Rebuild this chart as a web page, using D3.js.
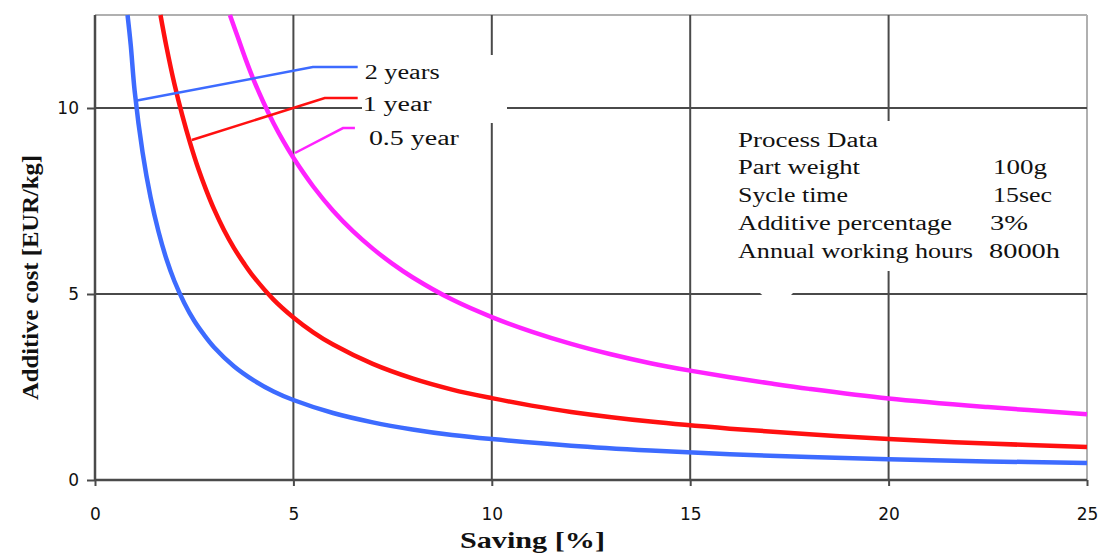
<!DOCTYPE html>
<html><head><meta charset="utf-8">
<script src="https://cdn.jsdelivr.net/npm/d3@7/dist/d3.min.js"></script>
<style>
body{margin:0;background:#fff;}
svg{display:block;}
text{font-family:"Liberation Serif","Times New Roman",serif;fill:#111;}
</style></head>
<body>
<svg id="chart" width="1105" height="555"></svg>
<script>
// ---- data ----
const xTicks = [0, 5, 10, 15, 20, 25];
const yTicks = [0, 5, 10];
const seriesNames = ["2 years", "1 year", "0.5 year"];
const seriesColors = ["#3d6bff", "#ff1010", "#ff22ff"];
const blueX = [0.82, 0.9, 1, 1.2, 1.4, 1.6, 1.8, 2, 2.25, 2.5, 2.75, 3, 3.5, 4, 4.5, 5, 6, 7, 8, 9, 10, 12, 14, 16, 18, 20, 22.5, 25];
const blueY = [12.5, 11.7, 10.45, 8.8, 7.6, 6.68, 5.94, 5.35, 4.76, 4.28, 3.9, 3.57, 3.06, 2.68, 2.38, 2.15, 1.8, 1.55, 1.36, 1.21, 1.1, 0.92, 0.79, 0.69, 0.62, 0.56, 0.5, 0.46];
const redX  = [1.65, 1.8, 2, 2.2, 2.4, 2.6, 2.8, 3, 3.25, 3.5, 3.75, 4, 4.5, 5, 5.5, 6, 7, 8, 9, 10, 11, 12, 14, 16, 18, 20, 22.5, 25];
const redY  = [12.5, 11.65, 10.65, 9.8, 9.05, 8.38, 7.8, 7.28, 6.72, 6.24, 5.83, 5.46, 4.85, 4.37, 3.97, 3.64, 3.12, 2.73, 2.43, 2.2, 2.0, 1.83, 1.57, 1.38, 1.23, 1.1, 0.98, 0.89];
const magX  = [3.4, 3.6, 3.8, 4, 4.25, 4.5, 4.75, 5, 5.5, 6, 6.5, 7, 7.5, 8, 9, 10, 11, 12, 13, 14, 15, 16, 17, 18, 20, 22.5, 25];
const magY  = [12.5, 11.9, 11.3, 10.75, 10.14, 9.59, 9.1, 8.66, 7.89, 7.24, 6.69, 6.22, 5.81, 5.45, 4.85, 4.38, 3.99, 3.66, 3.38, 3.14, 2.94, 2.76, 2.6, 2.45, 2.19, 1.96, 1.77];
// leader lines (data coords) from curve to label
const leaderBlue = [[1.06, 10.2], [5.49, 11.1], [6.62, 11.1]];
const leaderRed  = [[2.44, 9.14], [5.79, 10.27], [6.62, 10.27]];
const leaderMag  = [[5.04, 8.79], [6.25, 9.46], [6.55, 9.46]];
const processTitle = "Process Data";
const processLabels = ["Part weight", "Sycle time", "Additive percentage", "Annual working hours"];
const processValues = ["100g", "15sec", "3%", "8000h"];

// text widths matched to the reference rendering
const seriesLabelW = [75, 69, 90];
const processLabelW = [122, 110, 214, 235];
const processValueW = [54, 59, 38, 71];

// ---- layout ----
const svg = d3.select("#chart");
const x = d3.scaleLinear().domain([0, 25]).range([95, 1087]);
const y = d3.scaleLinear().domain([0, 12.5]).range([480, 15]);

// frame top/right (light)
svg.append("line").attr("x1", x(0)).attr("x2", x(25)).attr("y1", y(12.5)).attr("y2", y(12.5))
  .attr("stroke", "#b0b0b0").attr("stroke-width", 2);
svg.append("line").attr("x1", x(25)).attr("x2", x(25)).attr("y1", y(12.5)).attr("y2", y(0))
  .attr("stroke", "#b0b0b0").attr("stroke-width", 2);

// grid
const grid = svg.append("g");
grid.selectAll("line.v").data(xTicks.filter(d => d > 0 && d < 25)).join("line")
  .attr("x1", d => x(d)).attr("x2", d => x(d)).attr("y1", y(12.5)).attr("y2", y(0))
  .attr("stroke", "#4a4a4a").attr("stroke-width", 2);
grid.selectAll("line.h").data(yTicks.filter(d => d > 0)).join("line")
  .attr("x1", x(0)).attr("x2", x(25)).attr("y1", d => y(d)).attr("y2", d => y(d))
  .attr("stroke", "#4a4a4a").attr("stroke-width", 2);

// axes
const xAxis = d3.axisBottom(x).tickValues(xTicks).tickSize(6).tickPadding(22);
const yAxis = d3.axisLeft(y).tickValues(yTicks).tickSize(8).tickPadding(8);
const gx = svg.append("g").attr("transform", `translate(0,${y(0)})`).call(xAxis);
const gy = svg.append("g").attr("transform", `translate(${x(0)},0)`).call(yAxis);
[gx, gy].forEach(g => {
  g.select(".domain").attr("stroke", "#4a4a4a").attr("stroke-width", 2.5);
  g.selectAll(".tick line").attr("stroke", "#4a4a4a").attr("stroke-width", 2);
  g.selectAll(".tick text").style("font-family", "'DejaVu Sans'").style("font-size", "17px").attr("fill", "#2a2a2a");
});
gy.select(".domain").attr("d", `M0,${y(12.5)}V${y(0)}`);
gx.select(".domain").attr("d", `M${x(0)},0H${x(25)}`);

// white patches (label backgrounds) covering grid
svg.append("rect").attr("x", 362).attr("y", 55).attr("width", 145).attr("height", 68).attr("fill", "#fff");
svg.append("rect").attr("x", 730).attr("y", 121).attr("width", 350).attr("height", 150).attr("fill", "#fff");
svg.append("path").attr("d", "M752,270 L800,270 L800,286 L786,300 L768,300 L752,286 Z").attr("fill", "#fff");

// curves
const line = d3.line().x(d => x(d[0])).y(d => y(d[1])).curve(d3.curveCatmullRom.alpha(0.5));
const series = [
  d3.zip(blueX, blueY),
  d3.zip(redX, redY),
  d3.zip(magX, magY)
];
svg.append("g").selectAll("path").data(series).join("path")
  .attr("d", line).attr("fill", "none")
  .attr("stroke", (d, i) => seriesColors[i]).attr("stroke-width", 4.5);

// leader lines
const lline = d3.line().x(d => x(d[0])).y(d => y(d[1]));
const leaders = [leaderBlue, leaderRed, leaderMag];
svg.append("g").selectAll("path").data(leaders).join("path")
  .attr("d", lline).attr("fill", "none")
  .attr("stroke", (d, i) => seriesColors[i]).attr("stroke-width", 2.5);

// series labels
const labDx = [7, 5, 14], labDy = [12, 13, 17];
svg.append("g").selectAll("text").data(leaders).join("text")
  .attr("x", (d, i) => x(d[2][0]) + labDx[i])
  .attr("y", (d, i) => y(d[2][1]) + labDy[i])
  .style("font-size", "20px")
  .attr("textLength", (d, i) => seriesLabelW[i]).attr("lengthAdjust", "spacingAndGlyphs")
  .text((d, i) => seriesNames[i]);

// process data box text
const box = svg.append("g");
box.append("text").attr("x", 738).attr("y", 147).style("font-size", "20px")
  .attr("textLength", 140).attr("lengthAdjust", "spacingAndGlyphs").text(processTitle);
box.selectAll("text.l").data(processLabels).join("text").attr("class", "l")
  .attr("x", 738).attr("y", (d, i) => 174 + i * 28)
  .attr("textLength", (d, i) => processLabelW[i]).attr("lengthAdjust", "spacingAndGlyphs")
  .style("font-size", "20px").text(d => d);
box.selectAll("text.v").data(processValues).join("text").attr("class", "v")
  .attr("x", (d, i) => [993, 993, 990, 989][i]).attr("y", (d, i) => 174 + i * 28)
  .attr("textLength", (d, i) => processValueW[i]).attr("lengthAdjust", "spacingAndGlyphs")
  .style("font-size", "20px").text(d => d);

// axis titles
svg.append("text").attr("x", 460).attr("y", 548)
  .attr("textLength", 145).attr("lengthAdjust", "spacingAndGlyphs")
  .style("font-size", "24px").style("font-weight", "bold").text("Saving [%]");
svg.append("text").attr("transform", "translate(38,400) rotate(-90)")
  .attr("textLength", 245).attr("lengthAdjust", "spacingAndGlyphs")
  .style("font-size", "24px").style("font-weight", "bold").text("Additive cost [EUR/kg]");
</script>
</body></html>
